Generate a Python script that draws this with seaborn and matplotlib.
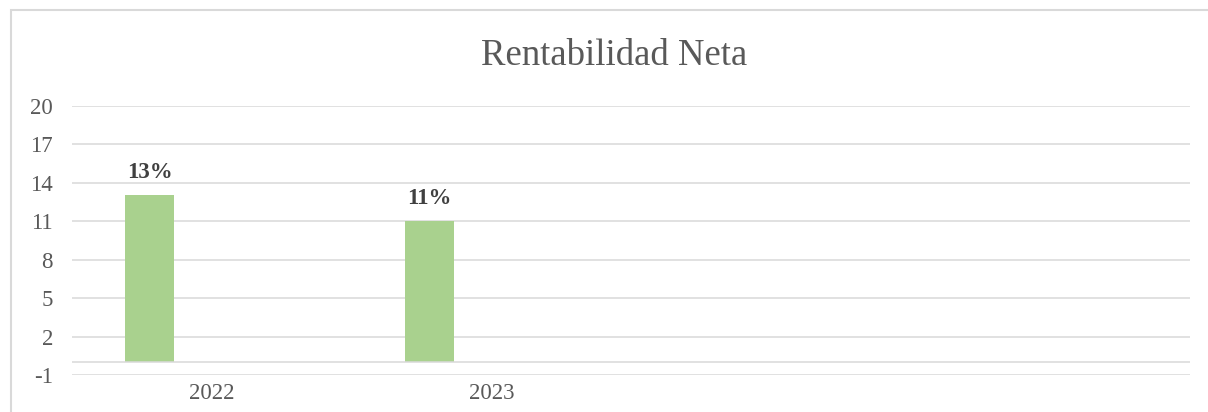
import pandas as pd
import seaborn as sns
import matplotlib.pyplot as plt
from matplotlib.patches import Rectangle

# datos
anios = ["2022", "2023", " ", "  "]
series = ["Rentabilidad Neta", "Serie 2", "Serie 3"]
rentabilidad = [13, 11, 0, 0]
serie2 = [0, 0, 0, 0]
serie3 = [0, 0, 0, 0]
yticks = [-1, 2, 5, 8, 11, 14, 17, 20]

df = pd.DataFrame({
    "Año": anios * 3,
    "Valor": rentabilidad + serie2 + serie3,
    "Serie": [s for s in series for _ in anios],
})

sns.set_style("white")
plt.rcParams["font.family"] = ["Liberation Serif", "DejaVu Serif"]

gris = "#595959"
linea = "#D9D9D9"

fig = plt.figure(figsize=(12.08, 4.12), dpi=100)
ax = fig.add_axes([0.0599, 0.0898, 0.985 - 0.0599, 0.7434 - 0.0898])

sns.barplot(data=df, x="Año", y="Valor", hue="Serie", order=anios, hue_order=series,
            palette=["#A9D18E", "#5B9BD5", "#ED7D31"], width=0.669, gap=0.215,
            legend=False, ax=ax, errorbar=None, saturation=1, linewidth=0)

ax.set_ylim(-1, 20)
ax.set_yticks(yticks)
ax.set_yticklabels([str(t) for t in yticks])
ax.yaxis.grid(True, color=linea, linewidth=1.1)
ax.axhline(0, color=linea, linewidth=1.1, zorder=3)
ax.set_axisbelow(True)
for s in ax.spines.values():
    s.set_visible(False)
ax.tick_params(axis="both", length=0, labelsize=16.5, labelcolor=gris)
ax.tick_params(axis="y", pad=14)
ax.tick_params(axis="x", pad=6)
ax.set_xlabel("")
ax.set_ylabel("")

ax.bar_label(ax.containers[0], labels=[f"{v}%" if v else "" for v in rentabilidad], padding=9,
             fontsize=16.5, fontweight="bold", color="#404040")

fig.text(614 / 1208, 1 - 65 / 412, "Rentabilidad Neta", ha="center", va="baseline",
         fontsize=26.5, color=gris)

fig.patches.append(Rectangle((10.7 / 1208, -0.1), 1.5, 1 - 10 / 412 + 0.1,
                             transform=fig.transFigure, fill=False,
                             edgecolor=linea, linewidth=1.5))

plt.savefig("out.png", dpi=100)
